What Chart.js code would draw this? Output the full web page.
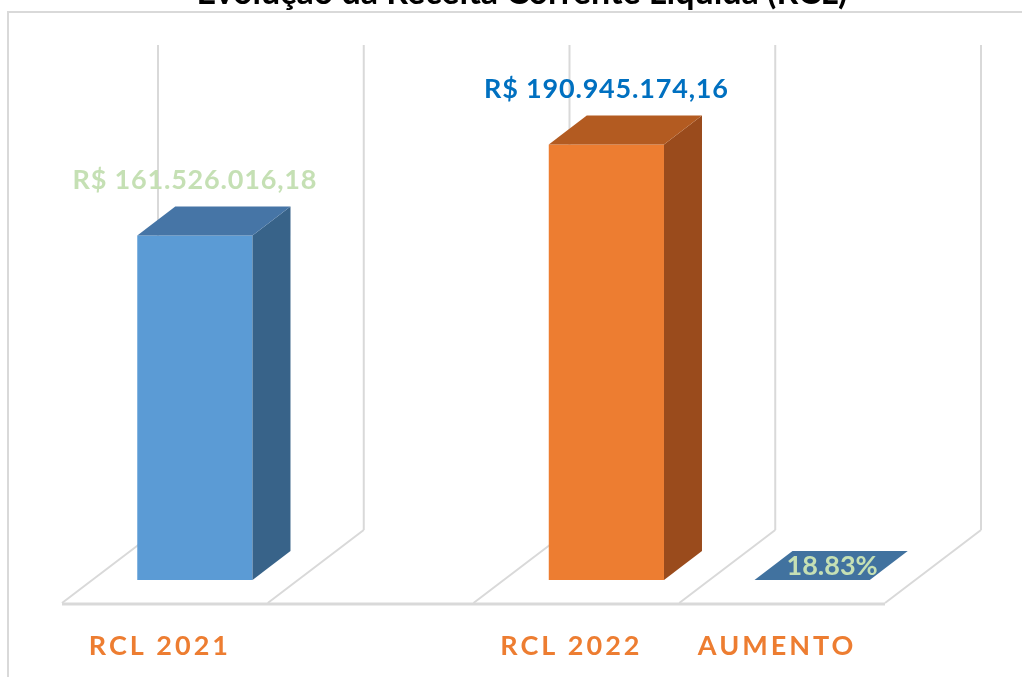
<!DOCTYPE html>
<html lang="pt-BR">
<head>
    <meta charset="UTF-8">
    <title>Evolução da Receita Corrente Líquida (RCL)</title>
    <style>
        body {
            margin: 0;
            padding: 0;
            background: #ffffff;
        }
        #grafico {
            display: block;
        }
    </style>
</head>
<body>
    <canvas id="grafico" width="1022" height="677"></canvas>
    <script src="https://cdn.jsdelivr.net/npm/chart.js@4.4.1/dist/chart.umd.min.js"></script>
    <script>
        // dados do grafico
        const titulo = 'Evolução da Receita Corrente Líquida (RCL)';
        const categorias = ['RCL 2021', '', 'RCL 2022', 'AUMENTO'];
        const valores = [161526016.18, null, 190945174.16, 18.83];
        const formatos = ['moeda', null, 'moeda', 'percentual'];
        const eixoMin = 50000000;
        const eixoMax = 207000000;

        // cores das faces (frente, topo, lado) e dos rotulos
        const corFrente = ['#5B9BD5', '#5B9BD5', '#ED7D31', '#5B9BD5'];
        const corTopo = ['#4675A6', null, '#B35B21', '#41729F'];
        const corLado = ['#386389', null, '#9A4B1C', '#386389'];
        const corRotulo = ['#C5E0B4', null, '#0070C0', '#C5E0B4'];

        // deslocamentos do efeito 3D em relacao ao plano das barras
        const FRENTE = { dx: -30, dy: 23 };
        const FUNDO = { dx: 66, dy: -50 };
        const PROF = { dx: 38, dy: -29 };
        const CINZA = '#D9D9D9';

        function formatar(v, tipo) {
            if (tipo === 'moeda') {
                return 'R$ ' + v.toLocaleString('pt-BR', { minimumFractionDigits: 2, maximumFractionDigits: 2 });
            }
            return v.toFixed(2) + '%';
        }

        function linha(ctx, x1, y1, x2, y2) {
            ctx.beginPath();
            ctx.moveTo(x1, y1);
            ctx.lineTo(x2, y2);
            ctx.stroke();
        }

        function poligono(ctx, pts, cor) {
            ctx.beginPath();
            ctx.moveTo(pts[0][0], pts[0][1]);
            for (let i = 1; i < pts.length; i++) ctx.lineTo(pts[i][0], pts[i][1]);
            ctx.closePath();
            ctx.fillStyle = cor;
            ctx.fill();
        }

        const efeito3d = {
            id: 'efeito3d',
            beforeDraw(chart) {
                const ctx = chart.ctx;
                ctx.save();
                ctx.strokeStyle = CINZA;
                ctx.lineWidth = 2;
                ctx.beginPath();
                ctx.moveTo(8, 700);
                ctx.lineTo(8, 12);
                ctx.lineTo(1030, 12);
                ctx.stroke();
                ctx.restore();
                // espacamento das letras dos rotulos do eixo
                ctx.letterSpacing = '3px';
            },
            beforeDatasetsDraw(chart) {
                const ctx = chart.ctx;
                ctx.letterSpacing = '0px';
                const area = chart.chartArea;
                const xs = chart.scales.x;
                const passo = xs.getPixelForValue(1) - xs.getPixelForValue(0);
                ctx.save();
                ctx.strokeStyle = CINZA;
                ctx.lineWidth = 2;
                for (let i = 0; i <= categorias.length; i++) {
                    const xb = xs.getPixelForValue(0) - passo / 2 + i * passo;
                    linha(ctx, xb + FUNDO.dx, area.top + FUNDO.dy, xb + FUNDO.dx, area.bottom + FUNDO.dy);
                    linha(ctx, xb + FUNDO.dx, area.bottom + FUNDO.dy, xb + FRENTE.dx, area.bottom + FRENTE.dy);
                }
                ctx.lineWidth = 3;
                linha(ctx, area.left + FRENTE.dx, area.bottom + FRENTE.dy + 1, area.right + FRENTE.dx, area.bottom + FRENTE.dy + 1);
                ctx.restore();
            },
            afterDatasetsDraw(chart) {
                const ctx = chart.ctx;
                const area = chart.chartArea;
                const meta = chart.getDatasetMeta(0);
                ctx.save();
                meta.data.forEach((el, i) => {
                    if (valores[i] === null) return;
                    const w = el.width;
                    const esq = el.x - w / 2;
                    const dir = el.x + w / 2;
                    const topo = Math.min(el.y, area.bottom);
                    const base = Math.min(el.base, area.bottom);
                    if (base > topo) {
                        poligono(ctx, [[dir, topo], [dir + PROF.dx, topo + PROF.dy], [dir + PROF.dx, base + PROF.dy], [dir, base]], corLado[i]);
                    }
                    poligono(ctx, [[esq, topo], [esq + PROF.dx, topo + PROF.dy], [dir + PROF.dx, topo + PROF.dy], [dir, topo]], corTopo[i]);

                    ctx.fillStyle = corRotulo[i];
                    ctx.font = 'bold 27px Lato';
                    ctx.textAlign = 'center';
                    ctx.textBaseline = 'middle';
                    const texto = formatar(valores[i], formatos[i]);
                    if (base > topo) {
                        ctx.letterSpacing = '0.8px';
                        ctx.fillText(texto, el.x, topo - 55);
                    } else {
                        ctx.letterSpacing = '0px';
                        ctx.fillText(texto, el.x + 20, topo - 14);
                    }
                });
                ctx.letterSpacing = '0px';
                ctx.restore();
            },
            afterDraw(chart) {
                const ctx = chart.ctx;
                ctx.save();
                ctx.fillStyle = '#000000';
                ctx.font = 'bold 34px Lato';
                ctx.textAlign = 'center';
                ctx.textBaseline = 'alphabetic';
                ctx.fillText(titulo, 522, 4);
                ctx.restore();
            }
        };

        const ctx = document.getElementById('grafico').getContext('2d');
        new Chart(ctx, {
            type: 'bar',
            data: {
                labels: categorias,
                datasets: [{
                    data: valores,
                    backgroundColor: corFrente,
                    borderWidth: 0,
                    categoryPercentage: 0.56,
                    barPercentage: 1,
                    clip: 0
                }]
            },
            options: {
                responsive: false,
                animation: false,
                layout: {
                    padding: { left: 92, right: 107, top: 95, bottom: 16 }
                },
                plugins: {
                    legend: { display: false },
                    tooltip: { enabled: false }
                },
                scales: {
                    x: {
                        afterFit(scale) {
                            scale.height = 81;
                        },
                        grid: { display: false, drawTicks: false },
                        border: { display: false },
                        ticks: {
                            color: '#ED7D31',
                            font: { family: 'Lato', size: 27, weight: 'bold' },
                            padding: 50,
                            labelOffset: -35,
                            autoSkip: false,
                            maxRotation: 0
                        }
                    },
                    y: {
                        display: false,
                        min: eixoMin,
                        max: eixoMax
                    }
                }
            },
            plugins: [efeito3d]
        });
    </script>
</body>
</html>
